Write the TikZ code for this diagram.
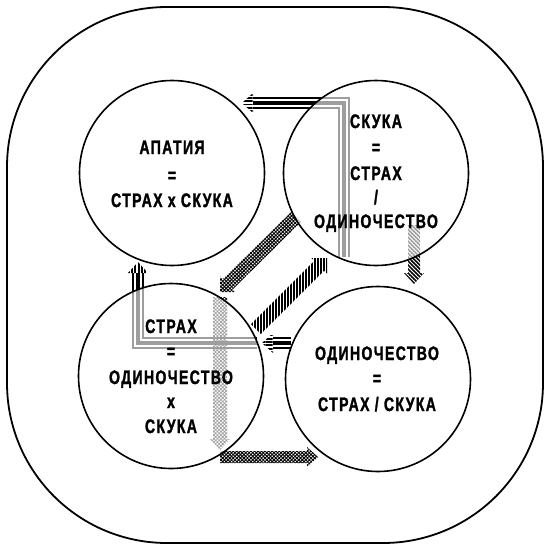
\documentclass[tikz,border=0pt]{standalone}
\usepackage{fontspec}
\newfontfamily\cf[FakeStretch=0.72,LetterSpace=7,FakeBold=1.5]{Liberation Sans}
\usetikzlibrary{calc,patterns.meta}
\tikzset{
  bubble/.style={circle, draw, line width=1.6pt, fill=white, fill opacity=0.62, minimum size=185pt, inner sep=0pt},
  lbl/.style={anchor=base, inner sep=0pt, font=\cf\bfseries\fontsize{19.5}{22}\selectfont},
  hlines/.style={pattern={Lines[angle=0,distance=3.3pt,line width=1.9pt]}},
  vlines/.style={pattern={Lines[angle=90,distance=3.3pt,line width=1.9pt]}},
  vstripes/.style={pattern={Lines[angle=90,distance=3pt,line width=1.6pt]}},
  nwlines/.style={pattern={Lines[angle=-45,distance=2.8pt,line width=1.6pt]}},
  darkhatch/.style={pattern={Hatch[angle=45,distance=2.5pt,line width=0.95pt]}},
  lighthatch/.style={pattern={Hatch[angle=45,distance=2.5pt,line width=0.7pt]}},
}
\newcommand\tristroke[1]{%
  \draw[line width=12pt,line join=miter] #1;
  \draw[white,line width=8pt,line join=miter] #1;
  \draw[line width=4pt,line join=miter] #1;}
\newcommand\patarrow[5]{% style, tail, tip, half shaft, half head
  \coordinate (ahb) at ($(#3)!11pt!(#2)$);
  \fill[#1] (#3) -- ($(ahb)!#5!90:(#3)$) -- ($(ahb)!#4!90:(#3)$) -- ($(#2)!#4!90:(#3)$)
    -- ($(#2)!#4!-90:(#3)$) -- ($(ahb)!#4!-90:(#3)$) -- ($(ahb)!#5!-90:(#3)$) -- cycle;}
\begin{document}
\begin{tikzpicture}[x=1pt,y=-1pt]
\useasboundingbox (0,0) rectangle (550,550);
\draw[line width=1.8pt, rounded corners=160pt] (7,7) rectangle (543,543);

% named coordinates for connectors
\coordinate (p1) at (344,257); \coordinate (p2) at (344,103); \coordinate (p3) at (253,103); \coordinate (tipTL) at (242,103);
\coordinate (q1) at (257,343); \coordinate (q2) at (138,343); \coordinate (q3) at (138,273); \coordinate (tipTL2) at (138,262);
\coordinate (r1) at (291,343); \coordinate (r2) at (273,343); \coordinate (tipBL) at (262,343);
\coordinate (sTail) at (414,225); \coordinate (sTip) at (414,284);
\coordinate (dTail) at (256,329); \coordinate (dTip) at (327,258);
\coordinate (eTail) at (296,217); \coordinate (eTip) at (220,292);
\coordinate (fTail) at (220,297); \coordinate (fTip) at (220,450);
\coordinate (gTail) at (220,457); \coordinate (gTip) at (318,457);

% TR -> TL
\tristroke{(p1) -- (p2) -- (p3)}
\fill[hlines] (tipTL) -- ($(tipTL)+(11,-10)$) -- ($(tipTL)+(11,10)$) -- cycle;
% BL -> TL
\tristroke{(q1) -- (q2) -- (q3)}
\fill[vlines] (tipTL2) -- ($(tipTL2)+(-10,11)$) -- ($(tipTL2)+(10,11)$) -- cycle;
% BR -> BL
\tristroke{(r1) -- (r2)}
\fill[hlines] (tipBL) -- ($(tipBL)+(11,-10)$) -- ($(tipBL)+(11,10)$) -- cycle;
% TR -> BR
\patarrow{nwlines}{sTail}{sTip}{6pt}{10pt}
% BL -> TR
\patarrow{vstripes}{dTail}{dTip}{7pt}{11pt}
% TR -> BL
\patarrow{darkhatch}{eTail}{eTip}{7pt}{11pt}
% inside BL, downward
\patarrow{lighthatch}{fTail}{fTip}{7pt}{10pt}
% BL -> BR
\patarrow{darkhatch}{gTail}{gTip}{6pt}{10pt}

% circles
\node[bubble] (cTL) at (172,173) {};
\node[bubble] (cTR) at (376,173) {};
\node[bubble] (cBL) at (171,376) {};
\node[bubble] (cBR) at (378,379) {};

% texts
\node[lbl] (tla) at (172,154) {АПАТИЯ};
\node[lbl] (tlb) at (172,182) {=};
\node[lbl] (tlc) at (172,207) {СТРАХ х СКУКА};
\node[lbl] (tra) at (376,128) {СКУКА};
\node[lbl] (trb) at (376,154) {=};
\node[lbl] (trc) at (376,180) {СТРАХ};
\node[lbl] (trd) at (376,204) {/};
\node[lbl] (tre) at (376,228) {ОДИНОЧЕСТВО};
\node[lbl] (bla) at (171,333) {СТРАХ};
\node[lbl] (blb) at (171,358) {=};
\node[lbl] (blc) at (171,384) {ОДИНОЧЕСТВО};
\node[lbl] (bld) at (171,408) {х};
\node[lbl] (ble) at (171,433) {СКУКА};
\node[lbl] (bra) at (377,360) {ОДИНОЧЕСТВО};
\node[lbl] (brb) at (377,385) {=};
\node[lbl] (brc) at (377,411) {СТРАХ / СКУКА};
\end{tikzpicture}
\end{document}
